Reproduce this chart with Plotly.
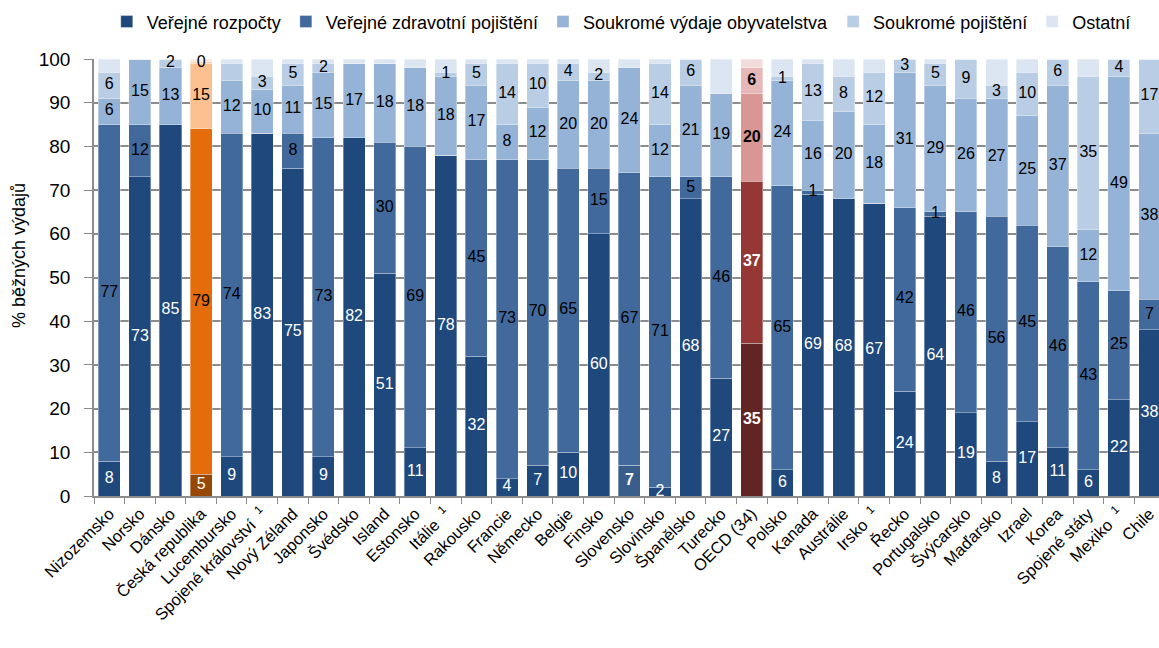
import plotly.graph_objects as go

# Categories (countries), left to right
countries = [
    "Nizozemsko", "Norsko", "Dánsko", "Česká republika", "Lucembursko",
    "Spojené království  <sup>1</sup>", "Nový Zéland", "Japonsko", "Švédsko", "Island",
    "Estonsko", "Itálie  <sup>1</sup>", "Rakousko", "Francie", "Německo", "Belgie",
    "Finsko", "Slovensko", "Slovinsko", "Španělsko", "Turecko", "OECD (34)",
    "Polsko", "Kanada", "Austrálie", "Irsko  <sup>1</sup>", "Řecko", "Portugalsko",
    "Švýcarsko", "Maďarsko", "Izrael", "Korea", "Spojené státy", "Mexiko  <sup>1</sup>",
    "Chile",
]

# Shares of current health expenditure by financing source (%)
verejne_rozpocty = [8, 73, 85, 5, 9, 83, 75, 9, 82, 51, 11, 78, 32, 4, 7, 10, 60, 7,
                    2, 68, 27, 35, 6, 69, 68, 67, 24, 64, 19, 8, 17, 11, 6, 22, 38]
zdravotni_pojisteni = [77, 12, 0, 79, 74, 0, 8, 73, 0, 30, 69, 0, 45, 73, 70, 65, 15, 67,
                       71, 5, 46, 37, 65, 1, 0, 0, 42, 1, 46, 56, 45, 46, 43, 25, 7]
soukrome_vydaje = [6, 15, 13, 15, 12, 10, 11, 15, 17, 18, 18, 18, 17, 8, 12, 20, 20, 24,
                   12, 21, 19, 20, 24, 16, 20, 18, 31, 29, 26, 27, 25, 37, 12, 49, 38]
soukrome_pojisteni = [6, 0, 2, 0.4, 4, 3, 5, 2, 0, 0, 0, 1, 5, 14, 10, 4, 2, 0,
                      14, 6, 0, 6, 1, 13, 8, 12, 3, 5, 9, 3, 10, 6, 35, 4, 17]
ostatni = [3, 0, 0, 0.6, 1, 4, 1, 1, 1, 1, 2, 3, 1, 1, 1, 1, 3, 2,
           1, 0, 8, 2, 4, 1, 4, 3, 0, 1, 0, 6, 3, 0, 4, 0, 0]

# Segments whose value label is not printed
hidden_labels = {
    "Veřejné zdravotní pojištění": {"Dánsko", "Spojené království  <sup>1</sup>", "Švédsko",
                                    "Itálie  <sup>1</sup>", "Austrálie", "Irsko  <sup>1</sup>"},
    "Soukromé pojištění": {"Norsko", "Lucembursko", "Švédsko", "Island", "Estonsko",
                           "Slovensko", "Turecko"},
    "Ostatní": set(countries),
}

series = [
    ("Veřejné rozpočty", verejne_rozpocty),
    ("Veřejné zdravotní pojištění", zdravotni_pojisteni),
    ("Soukromé výdaje obyvatelstva", soukrome_vydaje),
    ("Soukromé pojištění", soukrome_pojisteni),
    ("Ostatní", ostatni),
]

blue = ["#1F497D", "#41699C", "#95B3D7", "#B9CDE5", "#DCE6F2"]
orange = ["#974806", "#E46C0A", "#FAC090", "#FCD5B5", "#FDE9D9"]
red = ["#632523", "#953735", "#D99694", "#E6B9B8", "#F2DCDB"]

HIGHLIGHT_CZ = "Česká republika"
HIGHLIGHT_OECD = "OECD (34)"
HIGHLIGHT_SK = "Slovensko"

FONT = "Liberation Sans, Arial, sans-serif"

fig = go.Figure()

# Stacked bars
for i, (name, values) in enumerate(series):
    colors = []
    for c in countries:
        if c == HIGHLIGHT_CZ:
            colors.append(orange[i])
        elif c == HIGHLIGHT_OECD:
            colors.append(red[i])
        elif c == HIGHLIGHT_SK and i == 0:
            colors.append("#385D8A")
        else:
            colors.append(blue[i])
    fig.add_trace(go.Bar(
        name=name,
        x=countries,
        y=values,
        marker=dict(color=colors, line=dict(color="rgba(255,255,255,0.45)", width=0.75)),
        hoverinfo="x+y+name",
    ))

# Value labels centred on each segment, drawn above all bars
lab_x, lab_y, lab_t, lab_c = [], [], [], []
base = [0.0] * len(countries)
for i, (name, values) in enumerate(series):
    for j, (c, v) in enumerate(zip(countries, values)):
        mid = base[j] + v / 2
        base[j] += v
        if c in hidden_labels.get(name, set()):
            continue
        label = f"{round(v)}"
        if c == HIGHLIGHT_OECD or (c == HIGHLIGHT_SK and i == 0):
            label = f"<b>{label}</b>"
        white = (i == 0) or (c == HIGHLIGHT_OECD and i == 1)
        lab_x.append(c)
        lab_y.append(mid)
        lab_t.append(label)
        lab_c.append("white" if white else "black")

fig.add_trace(go.Scatter(
    x=lab_x,
    y=lab_y,
    mode="text",
    text=lab_t,
    textposition="middle center",
    textfont=dict(family=FONT, size=16, color=lab_c),
    showlegend=False,
    hoverinfo="skip",
    cliponaxis=False,
))

fig.update_layout(
    barmode="stack",
    bargap=0.28,
    width=1159,
    height=648,
    margin=dict(l=94, r=0, t=59, b=152),
    paper_bgcolor="white",
    plot_bgcolor="white",
    font=dict(family=FONT, size=16, color="black"),
    legend=dict(
        orientation="h",
        x=0.012, xanchor="left",
        y=1.085, yanchor="middle",
        font=dict(family=FONT, size=18, color="black"),
        itemwidth=30,
        traceorder="normal",
        bgcolor="rgba(0,0,0,0)",
    ),
    showlegend=True,
    annotations=[dict(
        text="% běžných výdajů",
        textangle=-90,
        xref="paper", yref="paper",
        x=-0.071, y=0.55,
        xanchor="center", yanchor="middle",
        showarrow=False,
        font=dict(family=FONT, size=18, color="black"),
    )],
)

fig.update_yaxes(
    range=[0, 100],
    dtick=10,
    showgrid=True,
    gridcolor="#8C8C8C",
    gridwidth=1.6,
    showline=True,
    linecolor="#8C8C8C",
    linewidth=1.5,
    ticks="outside",
    ticklen=8,
    tickcolor="#8C8C8C",
    ticklabelstandoff=10,
    tickfont=dict(family=FONT, size=19, color="black"),
    zeroline=False,
)

fig.update_xaxes(
    range=[-0.5, 34.31],
    showline=True,
    linecolor="#8C8C8C",
    linewidth=1.5,
    ticks="outside",
    tickson="boundaries",
    ticklen=6,
    tickcolor="#8C8C8C",
    tickangle=-45,
    tickfont=dict(family=FONT, size=16.5, color="black"),
    showgrid=False,
)

fig.write_html("out.html")
